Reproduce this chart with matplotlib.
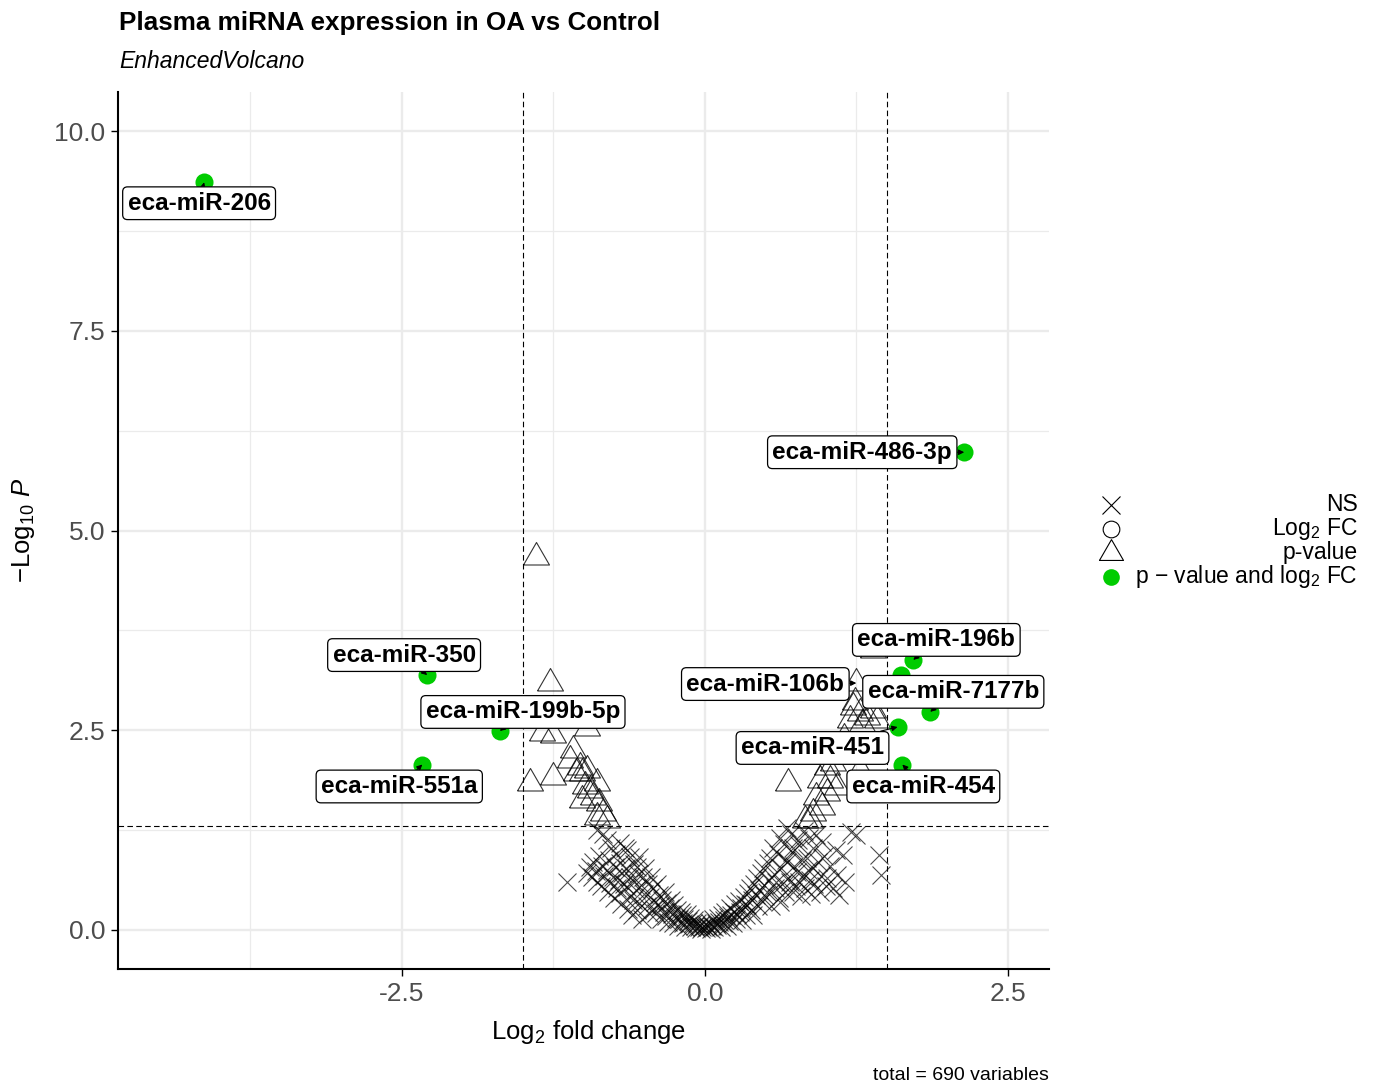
import numpy as np
import matplotlib
matplotlib.use("Agg")
import matplotlib.pyplot as plt
from matplotlib.ticker import MultipleLocator

plt.rcParams['font.family'] = ['Liberation Sans', 'DejaVu Sans']
plt.rcParams['mathtext.fontset'] = 'custom'
plt.rcParams['mathtext.rm'] = 'Liberation Sans'
plt.rcParams['mathtext.it'] = 'Liberation Sans:italic'
plt.rcParams['mathtext.bf'] = 'Liberation Sans:bold'

# NS (not significant) points: log2FC, -log10 p
ns_x = [-1.14, -0.97, -0.95, -0.93, -0.92, -0.90, -0.89, -0.89, -0.87, -0.86, -0.85, -0.84, -0.83,
        -0.81, -0.81, -0.80, -0.79, -0.78, -0.77, -0.76, -0.75, -0.74, -0.73, -0.72, -0.71, -0.70,
        -0.70, -0.70, -0.69, -0.68, -0.67, -0.66, -0.65, -0.64, -0.64, -0.63, -0.62, -0.62, -0.61,
        -0.60, -0.59, -0.58, -0.58, -0.57, -0.56, -0.56, -0.55, -0.54, -0.54, -0.53, -0.52, -0.51,
        -0.50, -0.49, -0.48, -0.47, -0.46, -0.45, -0.44, -0.43, -0.42, -0.41, -0.40, -0.39, -0.38,
        -0.37, -0.36, -0.35, -0.34, -0.33, -0.32, -0.31, -0.30, -0.29, -0.28, -0.27, -0.26, -0.25,
        -0.24, -0.23, -0.22, -0.21, -0.20, -0.19, -0.18, -0.17, -0.16, -0.15, -0.14, -0.13, -0.12,
        -0.11, -0.10, -0.09, -0.08, -0.07, -0.06, -0.05, -0.04, -0.03, -0.02, -0.01,
        0.01, 0.02, 0.03, 0.04, 0.05, 0.06, 0.07, 0.08, 0.09, 0.10, 0.11, 0.12, 0.13, 0.14, 0.15,
        0.16, 0.17, 0.18, 0.19, 0.20, 0.21, 0.22, 0.23, 0.24, 0.25, 0.26, 0.27, 0.28, 0.29, 0.30,
        0.31, 0.32, 0.33, 0.34, 0.35, 0.36, 0.37, 0.38, 0.39, 0.40, 0.41, 0.42, 0.43, 0.44, 0.45,
        0.46, 0.47, 0.48, 0.49, 0.50, 0.51, 0.52, 0.53, 0.54, 0.55, 0.56, 0.57, 0.58, 0.59, 0.60,
        0.61, 0.62, 0.62, 0.63, 0.64, 0.65, 0.66, 0.67, 0.68, 0.68, 0.69, 0.70, 0.71, 0.72, 0.73,
        0.73, 0.74, 0.75, 0.76, 0.77, 0.78, 0.78, 0.79, 0.80, 0.81, 0.82, 0.83, 0.84, 0.85, 0.86,
        0.87, 0.88, 0.89, 0.89, 0.90, 0.92, 0.93, 0.95, 0.96, 0.97, 0.98, 1.00, 1.01, 1.03, 1.06,
        1.08, 1.09, 1.11, 1.14, 1.16, 1.21, 1.25, 1.44, 1.45]
ns_y = [0.60, 0.71, 0.79, 0.66, 0.85, 0.74, 1.25, 0.60, 0.92, 0.55, 0.80, 1.20, 0.68,
        1.13, 0.75, 0.48, 0.88, 0.59, 1.02, 0.66, 0.40, 0.79, 0.95, 0.52, 0.62, 1.09,
        0.84, 0.46, 0.33, 0.71, 0.58, 1.02, 0.77, 0.54, 1.00, 0.26, 0.91, 0.66, 0.42,
        0.18, 0.38, 0.83, 0.60, 0.50, 0.79, 0.25, 0.70, 0.91, 0.34, 0.56, 0.14, 0.66,
        0.45, 0.78, 0.30, 0.58, 0.21, 0.41, 0.66, 0.52, 0.26, 0.35, 0.21, 0.58, 0.44,
        0.30, 0.13, 0.38, 0.23, 0.47, 0.17, 0.34, 0.10, 0.28, 0.38, 0.20, 0.08, 0.31,
        0.15, 0.25, 0.05, 0.13, 0.22, 0.18, 0.09, 0.14, 0.04, 0.20, 0.11, 0.07, 0.15,
        0.03, 0.09, 0.12, 0.05, 0.02, 0.08, 0.04, 0.06, 0.01, 0.03, 0.05,
        0.02, 0.06, 0.03, 0.08, 0.01, 0.05, 0.13, 0.04, 0.09, 0.06, 0.15, 0.10, 0.03, 0.19, 0.08,
        0.12, 0.22, 0.05, 0.16, 0.11, 0.27, 0.18, 0.08, 0.23, 0.32, 0.14, 0.20, 0.36, 0.23, 0.28,
        0.12, 0.41, 0.33, 0.19, 0.31, 0.46, 0.53, 0.25, 0.38, 0.19, 0.58, 0.44, 0.65, 0.30, 0.50,
        0.71, 0.36, 0.78, 0.56, 0.42, 0.48, 0.84, 0.62, 0.90, 0.30, 1.03, 0.70, 0.52, 0.60, 0.95,
        0.40, 1.15, 0.35, 0.77, 0.57, 1.08, 0.48, 0.88, 1.28, 0.85, 0.65, 0.60, 1.20, 0.97, 0.48,
        1.03, 0.80, 0.55, 0.73, 1.12, 0.60, 1.06, 0.42, 0.88, 0.68, 1.24, 0.53, 0.90, 0.75, 1.15,
        0.62, 0.45, 1.03, 0.78, 0.57, 1.19, 0.85, 0.48, 0.67, 1.10, 0.92, 0.55, 0.65, 0.80, 0.53,
        1.00, 0.69, 0.44, 0.94, 0.60, 1.23, 1.19, 0.94, 0.69]

# p-value only (|log2FC| < 1.5)
pv_x = [-1.39, -1.28, -1.34, -1.25, -0.97, -1.09, -1.11, -1.03, -1.06, -1.01, -0.97, -0.89,
        -1.44, -1.25, -1.01, -0.92, -0.87, -0.84, -0.89, -0.81, -0.95, -0.99,
        0.69, 1.39, 1.22, 1.28, 1.20, 1.34, 1.39, 1.42, 1.30, 1.01, 1.06, 0.95, 1.03, 1.01,
        0.92, 0.97, 0.89, 0.87, 1.09, 1.28, 1.15, 1.12, 0.83, 1.24, 1.25]
pv_y = [4.67, 3.09, 2.47, 2.44, 2.53, 2.25, 2.13, 2.04, 1.96, 1.96, 2.00, 1.84,
        1.84, 1.92, 1.63, 1.66, 1.59, 1.46, 1.41, 1.38, 1.75, 1.80,
        1.84, 3.50, 2.79, 2.71, 2.63, 2.67, 2.75, 2.63, 2.58, 2.04, 2.09, 1.88, 1.88, 1.71,
        1.66, 1.54, 1.46, 1.38, 1.79, 2.00, 2.40, 2.20, 1.38, 2.85, 3.09]

# p-value and log2 FC
sig_x = [-4.13, 2.14, -2.29, -1.69, -2.33, 1.72, 1.62, 1.86, 1.59, 1.63]
sig_y = [9.36, 5.98, 3.19, 2.49, 2.07, 3.38, 3.19, 2.73, 2.54, 2.07]

# labelled miRNAs
lab_names = ['eca-miR-206', 'eca-miR-486-3p', 'eca-miR-350', 'eca-miR-199b-5p', 'eca-miR-551a',
             'eca-miR-196b', 'eca-miR-106b', 'eca-miR-7177b', 'eca-miR-451', 'eca-miR-454']
lab_x = [-4.13, 2.14, -2.29, -1.69, -2.33, 1.72, 1.25, 1.86, 1.59, 1.63]
lab_y = [9.36, 5.98, 3.19, 2.49, 2.07, 3.38, 3.09, 2.73, 2.54, 2.07]

fc_cut = 1.5
p_cut = 0.05
total = 690

# label offsets (points)
lab_off = {'eca-miR-206': (-3.6, -15.1), 'eca-miR-486-3p': (-73.4, 0), 'eca-miR-350': (-16.6, 14.4),
           'eca-miR-199b-5p': (16.6, 13.7), 'eca-miR-551a': (-16.6, -15.8), 'eca-miR-196b': (16.6, 14.4),
           'eca-miR-106b': (-65.5, -0.7), 'eca-miR-7177b': (16.6, 14.4), 'eca-miR-451': (-61.2, -15.1),
           'eca-miR-454': (15.1, -15.8)}

fig = plt.figure(figsize=(13.74, 10.85), dpi=100)
ax = fig.add_axes([0.0859, 0.1069, 0.6776, 0.8083])

tri = [(-1.3468, -0.7776), (1.3468, -0.7776), (0, 1.5551), (-1.3468, -0.7776)]

ax.plot(ns_x, ns_y, ls='none', marker='x', ms=13, mew=0.8, color='black', alpha=0.7, zorder=3)
ax.plot(pv_x, pv_y, ls='none', marker=tri, ms=21.6, mew=0.8, mfc='none', mec='black', alpha=0.8, zorder=3)
ax.plot(sig_x, sig_y, ls='none', marker='o', ms=13, mew=0, color='#00CC00', zorder=4)

ax.axvline(-fc_cut, color='black', lw=0.8, ls=(0, (5, 3)), zorder=2)
ax.axvline(fc_cut, color='black', lw=0.8, ls=(0, (5, 3)), zorder=2)
ax.axhline(-np.log10(p_cut), color='black', lw=0.8, ls=(0, (5, 3)), zorder=2)

for name, x, y in zip(lab_names, lab_x, lab_y):
    ax.annotate(name, xy=(x, y), xytext=lab_off[name], textcoords='offset points',
                ha='center', va='center', fontsize=17.5, fontweight='bold', zorder=6,
                bbox=dict(boxstyle='round,pad=0.2,rounding_size=0.2', fc='white', ec='black', lw=0.9),
                arrowprops=dict(arrowstyle='-|>', color='black', lw=0.8, mutation_scale=8,
                                shrinkA=0, shrinkB=0))

ax.set_xlim(-4.84, 2.84)
ax.set_ylim(-0.49, 10.49)
ax.xaxis.set_major_locator(MultipleLocator(2.5))
ax.xaxis.set_minor_locator(MultipleLocator(1.25))
ax.yaxis.set_major_locator(MultipleLocator(2.5))
ax.yaxis.set_minor_locator(MultipleLocator(1.25))
ax.xaxis.set_major_formatter(matplotlib.ticker.FormatStrFormatter('%.1f'))
ax.yaxis.set_major_formatter(matplotlib.ticker.FormatStrFormatter('%.1f'))
ax.grid(which='major', color='#EBEBEB', lw=1.7, zorder=0)
ax.grid(which='minor', color='#EBEBEB', lw=0.9, zorder=0)
ax.set_axisbelow(True)
ax.tick_params(which='major', length=5, width=1, color='black', labelsize=19, labelcolor='#4D4D4D', pad=4)
ax.tick_params(which='minor', length=0)
for s in ['top', 'right']:
    ax.spines[s].set_visible(False)
for s in ['left', 'bottom']:
    ax.spines[s].set_linewidth(1.5)

ax.set_xlabel('Log$_2$ fold change', fontsize=18.5)
ax.xaxis.set_label_coords(0.505, -0.056)
ax.xaxis.label.set_va('top')
ax.set_ylabel('\u2212Log$_{10}$ $P$', fontsize=18.5)
ax.yaxis.set_label_coords(-0.087, 0.5)

fig.text(119 / 1374, 1 - 23 / 1085, 'Plasma miRNA expression in OA vs Control', fontsize=18.7,
         fontweight='bold', ha='left', va='center')
fig.text(119 / 1374, 1 - 62 / 1085, 'EnhancedVolcano', fontsize=16.5, style='italic',
         ha='left', va='center')
fig.text(1049 / 1374, 1 - 1075 / 1085, 'total = %d variables' % total, fontsize=14,
         ha='right', va='center')

# legend
lax = fig.add_axes([0.80, 0.44, 0.19, 0.11])
lax.set_xlim(0, 1)
lax.set_ylim(0, 1)
lax.axis('off')
leg_labels = ['NS', 'Log$_2$ FC', 'p-value', 'p \u2212 value and log$_2$ FC']
leg_styles = [dict(marker='x', ms=13, mew=0.8, color='black', mfc='none'),
              dict(marker='o', ms=12, mew=0.8, color='black', mfc='none'),
              dict(marker=tri, ms=20, mew=0.8, color='black', mfc='none'),
              dict(marker='o', ms=12, mew=0, color='#00CC00')]
for i, (lab, st) in enumerate(zip(leg_labels, leg_styles)):
    yy = 0.86 - i * 0.2
    lax.plot([0.045], [yy], ls='none', clip_on=False, **st)
    lax.text(0.99, yy, lab, fontsize=16.5, ha='right', va='center')

fig.savefig('out.png', dpi=100)
